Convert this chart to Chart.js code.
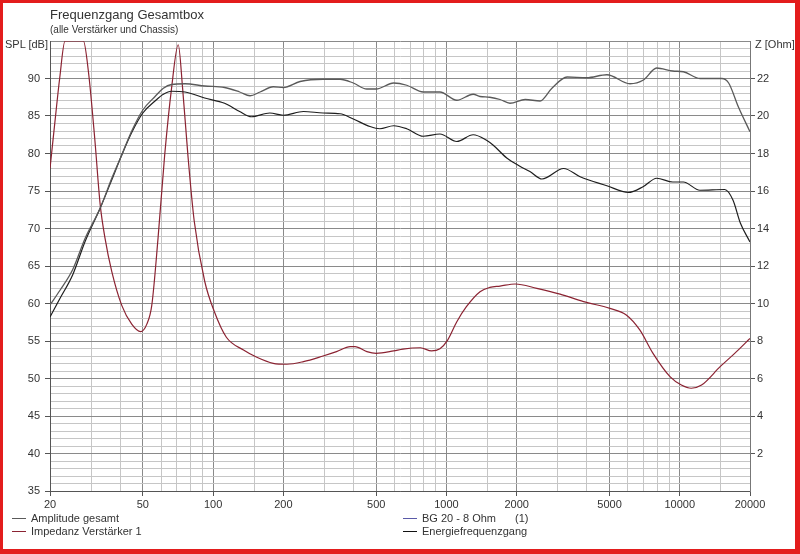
<!DOCTYPE html>
<html><head><meta charset="utf-8">
<script src="https://cdn.jsdelivr.net/npm/chart.js@4"></script>
<style>
html,body{margin:0;padding:0;background:#fff;}
#wrap{position:relative;width:800px;height:554px;overflow:hidden;font-family:"Liberation Sans",Arial,sans-serif;color:#333;background:#fff;}
#frame{position:absolute;left:0;top:0;width:800px;height:554px;box-sizing:border-box;border-style:solid;border-color:#e31d1d;border-width:3px 5px 5px 3px;pointer-events:none;z-index:5;}
#c{position:absolute;left:0;top:0;}
.t{position:absolute;white-space:nowrap;}
.leg{position:absolute;height:13px;line-height:13px;font-size:11px;white-space:nowrap;}
.leg i{display:inline-block;width:14px;height:0;border-top:1px solid;vertical-align:middle;margin-right:5px;position:relative;top:-1px;}
</style></head>
<body>
<div id="wrap">
<canvas id="c" width="800" height="554"></canvas>
<div class="t" style="left:50px;top:6px;font-size:13px;line-height:18px;">Frequenzgang Gesamtbox</div>
<div class="t" style="left:50px;top:24px;font-size:10px;line-height:12px;">(alle Verstärker und Chassis)</div>
<div class="t" style="left:5px;top:38px;font-size:11px;line-height:13px;">SPL [dB]</div>
<div class="t" style="left:755px;top:38px;font-size:11px;line-height:13px;">Z [Ohm]</div>
<div class="leg" style="left:12px;top:512px;"><i style="border-color:#5a5a5a"></i>Amplitude gesamt</div>
<div class="leg" style="left:12px;top:525px;"><i style="border-color:#8b2332"></i>Impedanz Verstärker 1</div>
<div class="leg" style="left:403px;top:512px;"><i style="border-color:#5a5aa8"></i>BG 20 - 8 Ohm<span style="position:absolute;left:112px;">(1)</span></div>
<div class="leg" style="left:403px;top:525px;"><i style="border-color:#111"></i>Energiefrequenzgang</div>
<div id="frame"></div>
</div>
<script>
// ---- data ----
const ampFreq = [20,22,25,28.3,32.8,36.8,40.6,44.8,50,56.4,61.2,66.4,75.8,92,112,130,144,159,181,200,236,296,350,399,456,500,594,676,796,938,1108,1302,1393,1534,1698,1872,2176,2520,2832,3290,3993,4871,6120,6987,7960,9340,10360,12200,15140,16200,17840,20000];
const ampSpl  = [59.8,61.7,64.5,68.7,72.7,76.7,79.8,83.0,85.8,87.6,88.7,89.2,89.3,89.0,88.8,88.2,87.7,88.2,88.9,88.8,89.6,89.9,89.9,89.4,88.6,88.6,89.4,89.1,88.2,88.2,87.1,87.9,87.6,87.5,87.2,86.7,87.2,87.0,88.7,90.2,90.1,90.5,89.3,89.8,91.4,91.0,90.9,90.0,90.0,89.4,86.2,82.9];

const energyFreq = [20,22,25,28.3,32.8,36.8,40.6,44.8,50,56.4,61.2,66.4,75.8,92,112,130,146,175,200,244,296,350,399,470,518,594,676,796,938,1108,1302,1480,1588,1814,2064,2280,2568,3180,3740,4871,6020,6987,7960,9340,10360,12200,15580,16900,18200,20000];
const energySpl  = [58.2,60.6,63.8,68.3,72.7,76.5,79.8,82.8,85.4,87.0,87.9,88.3,88.2,87.4,86.7,85.6,84.9,85.4,85.1,85.6,85.4,85.3,84.6,83.6,83.3,83.7,83.3,82.3,82.6,81.6,82.5,81.8,81.1,79.4,78.3,77.6,76.6,78.0,76.9,75.7,74.8,75.6,76.7,76.2,76.2,75.1,75.2,73.8,70.7,68.2];

const impFreq = [20,21,22,23.2,25,27.8,29.2,31.1,32.8,34.4,36.8,40.6,44.8,48.9,52,54.6,58.1,62,66.4,70.9,74,78,83,92,101,114,135,154,181,207,244,296,338,387,406,456,500,594,651,774,863,938,1012,1108,1218,1393,1534,1698,1972,2440,3070,3870,5020,5900,6740,7680,9080,10160,11200,12400,14900,17500,20000];
const impOhm  = [17.2,19.7,22.0,24,24,24,22.4,18.8,15.3,13.5,11.7,9.9,8.9,8.5,8.9,9.9,13.5,17.9,21.5,23.8,21.5,17.9,14.4,11.2,9.6,8.2,7.52,7.13,6.81,6.76,6.9,7.2,7.43,7.7,7.7,7.43,7.34,7.47,7.57,7.64,7.47,7.59,8.05,9.03,9.83,10.63,10.86,10.93,11.04,10.81,10.5,10.1,9.74,9.39,8.59,7.34,6.1,5.65,5.48,5.65,6.63,7.43,8.14];

const xGridValues  = [20,30,40,50,60,70,80,90,100,150,200,300,400,500,600,700,800,900,1000,1500,2000,3000,4000,5000,6000,7000,8000,9000,10000,15000,20000];
const xLabelValues = [20,50,100,200,500,1000,2000,5000,10000,20000];
const splLabelValues = [35,40,45,50,55,60,65,70,75,80,85,90];
const ohmLabelValues = [2,4,6,8,10,12,14,16,18,20,22];

// ---- chart ----
const pts = (xs, ys) => xs.map((x, i) => ({x: x, y: ys[i]}));
const MAJ = '#8a8a8a', MIN = '#c6c6c6', NONE = 'rgba(0,0,0,0)';
const font = {family: '"Liberation Sans", Arial, sans-serif', size: 11};

new Chart(document.getElementById('c'), {
  type: 'line',
  data: {
    datasets: [
      {label: 'Amplitude gesamt', data: pts(ampFreq, ampSpl), yAxisID: 'y', borderColor: '#5a5a5a', borderWidth: 1.3},
      {label: 'Energiefrequenzgang', data: pts(energyFreq, energySpl), yAxisID: 'y', borderColor: '#1e1e1e', borderWidth: 1.2},
      {label: 'Impedanz Verstärker 1', data: pts(impFreq, impOhm), yAxisID: 'y2', borderColor: '#8b2332', borderWidth: 1.2}
    ]
  },
  options: {
    responsive: false,
    animation: false,
    devicePixelRatio: 1,
    layout: {padding: {top: 41, left: 0, right: 0, bottom: 0}},
    elements: {point: {radius: 0}, line: {cubicInterpolationMode: 'monotone'}},
    plugins: {legend: {display: false}, tooltip: {enabled: false}, title: {display: false}},
    scales: {
      x: {
        type: 'logarithmic', min: 20, max: 20000,
        afterBuildTicks: s => { s.ticks = xGridValues.map(v => ({value: v})); },
        afterFit: s => { s.height = 63; },
        ticks: {autoSkip: false, maxRotation: 0, color: '#333', font: font, padding: 2,
          callback: v => xLabelValues.includes(v) ? String(v) : ''},
        grid: {
          color: c => (c.tick && xLabelValues.includes(c.tick.value)) ? MAJ : MIN,
          tickColor: c => (c.tick && xLabelValues.includes(c.tick.value)) ? '#555' : NONE,
          tickLength: 5
        },
        border: {color: '#555'}
      },
      y: {
        position: 'left', min: 35, max: 95,
        afterFit: s => { s.width = 50; },
        ticks: {stepSize: 1, autoSkip: false, color: '#333', font: font, padding: 5,
          callback: v => splLabelValues.includes(v) ? String(v) : ''},
        grid: {
          color: c => (c.tick && c.tick.value % 5 === 0) ? MAJ : MIN,
          tickColor: c => (c.tick && splLabelValues.includes(c.tick.value)) ? '#555' : NONE,
          tickLength: 5
        },
        border: {color: '#555'}
      },
      y2: {
        position: 'right', min: 0, max: 24,
        afterFit: s => { s.width = 50; },
        ticks: {stepSize: 2, autoSkip: false, color: '#333', font: font, padding: 2,
          callback: v => ohmLabelValues.includes(v) ? String(v) : ''},
        grid: {
          drawOnChartArea: false,
          tickColor: c => (c.tick && ohmLabelValues.includes(c.tick.value)) ? '#555' : NONE,
          tickLength: 5
        },
        border: {color: '#777'}
      }
    }
  }
});
</script>
</body></html>
